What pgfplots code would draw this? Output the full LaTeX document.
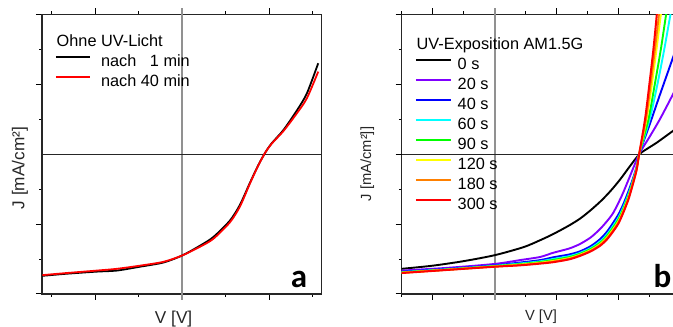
\documentclass[border=0pt]{standalone}
\usepackage{pgfplots}
\pgfplotsset{compat=1.18}
\usepackage{fontspec}
\setmainfont{Liberation Sans}
\newfontfamily\calibri{Carlito}

\definecolor{uvviolet}{RGB}{128,0,255}
\definecolor{uvblue}{RGB}{0,0,255}
\definecolor{uvcyan}{RGB}{0,255,255}
\definecolor{uvgreen}{RGB}{0,255,0}
\definecolor{uvyellow}{RGB}{255,255,0}
\definecolor{uvorange}{RGB}{255,128,0}
\definecolor{uvred}{RGB}{255,0,0}
\definecolor{zerogray}{RGB}{145,145,145}

\pgfplotsset{
  jv/.style={
    scale only axis, height=279.7pt,
    ymin=-4, ymax=4,
    ytick={-4,-2,2,4}, minor ytick={-3,-1,1,3},
    xticklabels={}, yticklabels={},
    tick align=outside, xtick pos=both, ytick pos=left,
    major tick length=6pt, minor tick length=2.8pt,
    tick style={black, line width=1pt},
    axis line style={black!85, line width=1.1pt},
    extra x ticks={0}, extra x tick labels={},
    extra x tick style={grid=major, major grid style={zerogray, line width=1.9pt},
      tick style={zerogray, line width=1.9pt}},
    extra y ticks={0}, extra y tick labels={},
    extra y tick style={grid=major, major grid style={black!85, line width=1.1pt}},
    legend cell align=left,
    every axis plot/.append style={smooth, tension=0.45},
  },
  jvlegend/.style={
    legend style={draw=none, fill=none, inner sep=0pt, outer sep=0pt,
      font=\fontsize{16.3}{19}\selectfont, row sep=4.5pt,
      nodes={inner sep=0pt, text height=12pt, text depth=3.5pt}},
  },
}

\begin{document}
\begin{tikzpicture}
\useasboundingbox (0,0) rectangle (673pt,327pt);
\clip (0,0) rectangle (673pt,327pt);

% ---------------- panel a: without UV light ----------------
\begin{axis}[jv, jvlegend,
  at={(42pt,33pt)}, anchor=south west, width=279.7pt,
  xmin=-3.22, xmax=3.21,
  xtick={-2,2}, minor xtick={-3,-1,1,3},
  extra y tick style={major tick length=0pt},
  xlabel={V [V]}, ylabel={J [mA/cm²]},
  label style={font=\fontsize{17.2}{20}\selectfont, text=black!85},
  xlabel style={at={(axis description cs:0.4706,-0.107)}, anchor=base},
  ylabel style={at={(axis description cs:-0.079,0.450)}, anchor=center},
  legend style={at={(axis description cs:0.0465,0.927)}, anchor=north west,
    /tikz/every odd column/.append style={column sep=10.3pt}},
  legend image code/.code={\draw[#1, line width=1.7pt] (0pt,5.3pt) -- (34pt,5.3pt);},
]
\addlegendimage{empty legend}
\addlegendentry{\hspace{-44.3pt}Ohne UV-Licht}
\addplot[black, line width=1.8pt] coordinates {
 (-3.21,-3.48) (-2.65,-3.42) (-1.96,-3.36) (-1.50,-3.33) (-0.97,-3.22)
 (-0.43,-3.10) (0,-2.90) (0.41,-2.62) (0.72,-2.37) (1.10,-1.90)
 (1.33,-1.45) (1.56,-0.82) (1.75,-0.32) (1.91,0.04) (2.06,0.31)
 (2.33,0.69) (2.64,1.25) (2.87,1.74) (3.13,2.60)};
\addlegendentry{nach \phantom{4}1 min}
\addplot[uvred, line width=1.8pt] coordinates {
 (-3.21,-3.46) (-2.65,-3.40) (-1.96,-3.33) (-1.50,-3.28) (-0.97,-3.19)
 (-0.43,-3.08) (0,-2.90) (0.41,-2.65) (0.72,-2.42) (1.10,-1.95)
 (1.33,-1.50) (1.56,-0.84) (1.75,-0.33) (1.91,0.04) (2.06,0.30)
 (2.33,0.66) (2.64,1.17) (2.87,1.60) (3.13,2.36)};
\addlegendentry{nach 40 min}
\node[anchor=base west, inner sep=0pt, font=\calibri\bfseries\fontsize{33}{33}\selectfont]
  at (axis description cs:0.889,0.024) {a};
\end{axis}

% ---------------- panel b: UV exposure AM1.5G ----------------
\begin{axis}[jv, jvlegend,
  at={(401.7pt,33pt)}, anchor=south west, width=277.45pt,
  xmin=-3, xmax=5.95,
  xtick={-2,2,4}, minor xtick={-3,-1,1,3,5},
  xlabel={V [V]}, ylabel={J [mA/cm²]]},
  label style={font=\fontsize{14.7}{17}\selectfont, text=black!85},
  xlabel style={at={(axis description cs:0.502,-0.095)}, anchor=base},
  ylabel style={at={(axis description cs:-0.1236,0.4648)}, anchor=center},
  legend style={at={(axis description cs:0.048,0.916)}, anchor=north west,
    /tikz/every odd column/.append style={column sep=6pt}},
  legend image code/.code={\draw[#1, line width=1.7pt] (0pt,5.3pt) -- (35pt,5.3pt);},
]
\addlegendimage{empty legend}
\addlegendentry{\hspace{-41pt}UV-Exposition AM1.5G}
\addplot[black, line width=1.9pt] coordinates {
 (-3,-3.28) (-2,-3.19) (-1,-3.06) (0,-2.89) (0.93,-2.66) (1.47,-2.46)
 (1.90,-2.28) (2.40,-2.04) (2.76,-1.84) (3.10,-1.60) (3.45,-1.32)
 (3.75,-1.04) (4.05,-0.72) (4.35,-0.36) (4.67,0) (5.00,0.20)
 (5.23,0.33) (5.76,0.67) (6.00,0.82)};
\addlegendentry{0 s}
\addplot[uvviolet, line width=1.9pt] coordinates {
 (-3,-3.33) (-1.5,-3.25) (0,-3.14) (0.82,-3.03) (1.47,-2.94) (1.89,-2.82)
 (2.40,-2.70) (2.75,-2.57) (3.10,-2.38) (3.40,-2.14) (3.62,-1.92)
 (3.83,-1.67) (4.10,-1.19) (4.35,-0.66) (4.66,0) (5.00,0.50)
 (5.33,1.00) (5.75,1.71) (6.00,2.15)};
\addlegendentry{20 s}
\addplot[uvblue, line width=1.9pt] coordinates {
 (-3,-3.36) (-1.5,-3.28) (0,-3.18) (0.82,-3.10) (1.47,-3.03) (1.89,-2.95)
 (2.40,-2.87) (2.75,-2.78) (3.10,-2.63) (3.40,-2.43) (3.62,-2.22)
 (3.83,-1.95) (4.00,-1.71) (4.15,-1.43) (4.32,-1.05) (4.47,-0.67)
 (4.58,-0.35) (4.66,0) (5.00,0.85) (5.33,1.70) (5.75,2.76) (6.00,3.40)};
\addlegendentry{40 s}
\addplot[uvcyan, line width=1.9pt] coordinates {
 (-3,-3.374) (-1.5,-3.29) (0,-3.194) (0.82,-3.128) (1.47,-3.065) (1.89,-2.999)
 (2.40,-2.919) (2.75,-2.826) (3.10,-2.683) (3.40,-2.497) (3.62,-2.297)
 (3.83,-2.038) (4.00,-1.801) (4.15,-1.514) (4.32,-1.131) (4.47,-0.723)
 (4.58,-0.382) (4.66,0) (5.00,1) (5.25,2) (5.47,3) (5.67,4) (5.77,4.5)};
\addlegendentry{60 s}
\addplot[uvgreen, line width=1.9pt] coordinates {
 (-3,-3.382) (-1.5,-3.297) (0,-3.202) (0.82,-3.144) (1.47,-3.085) (1.89,-3.027)
 (2.40,-2.947) (2.75,-2.852) (3.10,-2.713) (3.40,-2.535) (3.62,-2.341)
 (3.83,-2.088) (4.00,-1.853) (4.15,-1.562) (4.32,-1.177) (4.47,-0.753)
 (4.58,-0.40) (4.66,0) (4.96,1) (5.165,2) (5.36,3) (5.53,4) (5.62,4.5)};
\addlegendentry{90 s}
\addplot[uvyellow, line width=1.9pt] coordinates {
 (-3,-3.39) (-1.5,-3.303) (0,-3.21) (0.82,-3.16) (1.47,-3.105) (1.89,-3.055)
 (2.40,-2.975) (2.75,-2.878) (3.10,-2.743) (3.40,-2.573) (3.62,-2.385)
 (3.83,-2.138) (4.00,-1.905) (4.15,-1.61) (4.32,-1.223) (4.47,-0.783)
 (4.58,-0.418) (4.66,0) (4.90,1) (5.07,2) (5.22,3) (5.36,4) (5.43,4.5)};
\addlegendentry{120 s}
\addplot[uvorange, line width=1.9pt] coordinates {
 (-3,-3.395) (-1.5,-3.306) (0,-3.215) (0.82,-3.17) (1.47,-3.118) (1.89,-3.073)
 (2.40,-2.993) (2.75,-2.894) (3.10,-2.762) (3.40,-2.597) (3.62,-2.414)
 (3.83,-2.17) (4.00,-1.939) (4.15,-1.641) (4.32,-1.252) (4.47,-0.802)
 (4.58,-0.429) (4.66,0) (4.88,1) (5.03,2) (5.17,3) (5.30,4) (5.36,4.5)};
\addlegendentry{180 s}
\addplot[uvred, line width=2pt] coordinates {
 (-3,-3.40) (-1.5,-3.31) (0,-3.22) (0.82,-3.18) (1.47,-3.13) (1.89,-3.09)
 (2.40,-3.01) (2.75,-2.91) (3.10,-2.78) (3.40,-2.62) (3.62,-2.44)
 (3.83,-2.20) (4.00,-1.97) (4.15,-1.67) (4.32,-1.28) (4.47,-0.82)
 (4.58,-0.44) (4.66,0) (4.85,1) (4.99,2) (5.12,3) (5.23,4) (5.28,4.5)};
\addlegendentry{300 s}
\node[anchor=base west, inner sep=0pt, font=\calibri\bfseries\fontsize{33}{33}\selectfont]
  at (axis description cs:0.907,0.024) {b};
\end{axis}
\end{tikzpicture}
\end{document}
